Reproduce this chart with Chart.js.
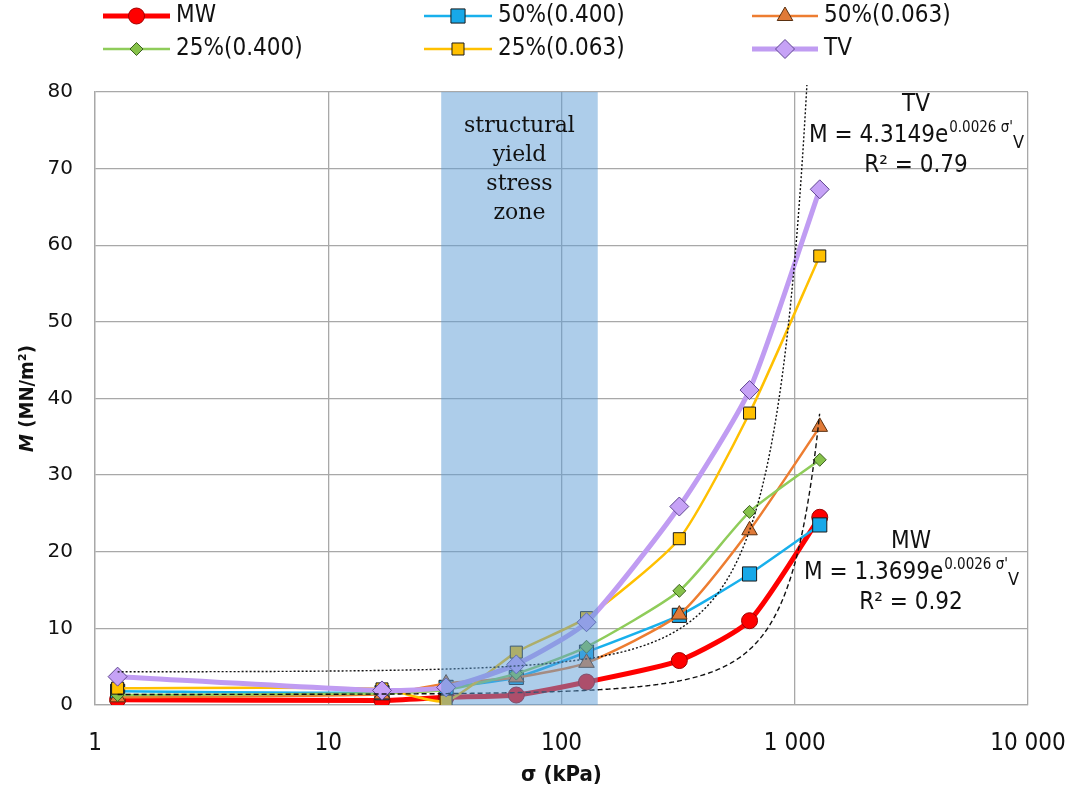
<!DOCTYPE html>
<html>
<head>
<meta charset="utf-8">
<script src="https://cdn.jsdelivr.net/npm/chart.js@4.4.1/dist/chart.umd.min.js"></script>
<style>
  body { margin: 0; background: #fff; }
</style>
</head>
<body>
<canvas id="chart" width="1070" height="794"></canvas>
<script>
// vertical stress steps (kPa)
const stress = [1.25, 17, 32, 64, 128, 320, 640, 1280];

// constrained modulus M (MN/m2) per series
const mwValues    = [0.7, 0.6, 1.0, 1.3, 3.0, 5.8, 11.0, 24.5];
const p50_400     = [1.8, 1.6, 2.3, 3.6, 6.9, 11.7, 17.1, 23.5];
const p50_063     = [1.0, 1.4, 2.8, 3.6, 5.5, 11.8, 22.8, 36.3];
const p25_400     = [1.3, 1.5, 2.0, 4.1, 7.6, 14.9, 25.2, 32.0];
const p25_063     = [2.2, 2.1, 0.5, 6.9, 11.4, 21.7, 38.1, 58.6];
const tvValues    = [3.7, 1.9, 2.3, 5.3, 10.8, 25.9, 41.1, 67.3];

const seriesNames = ['MW', '50%(0.400)', '50%(0.063)', '25%(0.400)', '25%(0.063)', 'TV'];

const xTickValues = [1, 10, 100, 1000, 10000];

// exponential fits shown on the chart: M = a * e^(b * sigma)
const tvFit = [4.3149, 0.0026];
const mwFit = [1.3699, 0.0026];
const tvR2 = '0.79';
const mwR2 = '0.92';

// shaded zone (kPa)
const yieldZone = [30.5, 143];
const yieldLabel = ['structural', 'yield', 'stress', 'zone'];

const COND = "'DejaVu Sans Condensed', 'DejaVu Sans', sans-serif";

function pts(values) {
    return stress.map((s, i) => ({ x: s, y: values[i] }));
}

function makeDataset(label, values, line, width, style, radius, fill, border, order) {
    return {
        label: label,
        data: pts(values),
        borderColor: line,
        borderWidth: width,
        pointStyle: style,
        pointRadius: radius,
        pointBackgroundColor: fill,
        pointBorderColor: border,
        pointBorderWidth: 1,
        tension: 0.2,
        fill: false,
        order: order
    };
}

const datasets = [
    makeDataset(seriesNames[0], mwValues, '#ff0000', 5, 'circle', 8, '#ff0000', '#a00000', 6),
    makeDataset(seriesNames[1], p50_400, '#18b0ec', 2.5, 'rect', 10, '#18a8e8', '#1a1a1a', 5),
    makeDataset(seriesNames[2], p50_063, '#ed7d31', 2.5, 'triangle', 9, '#e07a38', '#5a3010', 4),
    makeDataset(seriesNames[3], p25_400, '#8fcc5a', 2.5, 'rectRot', 6.5, '#86c24a', '#3c6020', 3),
    makeDataset(seriesNames[4], p25_063, '#ffc000', 2.5, 'rect', 8.5, '#ffc000', '#1a1a1a', 2),
    makeDataset(seriesNames[5], tvValues, '#c09cf2', 5, 'rectRot', 9.5, '#c6a2f6', '#5e4590', 1)
];

// legend grid: [line start, line end, text x, row y]
const legendSlots = [
    [103, 170, 176, 16],
    [424, 492, 498, 16],
    [752, 818, 824, 16],
    [103, 170, 176, 49],
    [424, 492, 498, 49],
    [752, 818, 824, 49]
];

function drawTrend(ctx, chart, fit, endSigma, dash) {
    const xs = chart.scales.x, ys = chart.scales.y, area = chart.chartArea;
    const x0 = xs.getPixelForValue(stress[0]);
    const x1 = xs.getPixelForValue(endSigma);
    ctx.save();
    ctx.beginPath();
    ctx.rect(area.left, area.top - 7, area.right - area.left, area.bottom - area.top + 7);
    ctx.clip();
    ctx.strokeStyle = '#111';
    ctx.lineWidth = 1.4;
    ctx.setLineDash(dash);
    ctx.beginPath();
    for (let px = x0; px <= x1; px += 1) {
        const s = xs.getValueForPixel(px);
        const py = ys.getPixelForValue(fit[0] * Math.exp(fit[1] * s));
        if (px === x0) ctx.moveTo(px, py); else ctx.lineTo(px, py);
        if (py < area.top - 10) break;
    }
    ctx.stroke();
    ctx.restore();
}

function drawEquation(ctx, cx, y, fit) {
    const main = '24px ' + COND, sup = '15px ' + COND, sub = '18px ' + COND;
    const t1 = 'M = ' + fit[0] + 'e', t2 = fit[1] + " \u03c3'", t3 = 'V';
    ctx.font = main; const w1 = ctx.measureText(t1).width;
    ctx.font = sup; const w2 = ctx.measureText(t2).width;
    ctx.font = sub; const w3 = ctx.measureText(t3).width;
    let x = cx - (w1 + w2 + w3) / 2;
    ctx.textAlign = 'left';
    ctx.textBaseline = 'middle';
    ctx.font = main; ctx.fillText(t1, x, y); x += w1 + 1;
    ctx.font = sup; ctx.fillText(t2, x, y - 8); x += w2;
    ctx.font = sub; ctx.fillText(t3, x, y + 7);
}

function drawFitBox(ctx, cx, y, name, fit, r2) {
    ctx.fillStyle = '#111';
    ctx.textAlign = 'center';
    ctx.textBaseline = 'middle';
    ctx.font = '24px ' + COND;
    ctx.fillText(name, cx, y);
    drawEquation(ctx, cx, y + 31, fit);
    ctx.textAlign = 'center';
    ctx.font = '24px ' + COND;
    ctx.fillText('R\u00b2 = ' + r2, cx, y + 61);
}

const decorPlugin = {
    id: 'decor',
    afterDatasetsDraw(chart) {
        const ctx = chart.ctx, xs = chart.scales.x, area = chart.chartArea;
        drawTrend(ctx, chart, tvFit, stress[stress.length - 1], [2, 2]);
        drawTrend(ctx, chart, mwFit, stress[stress.length - 1], [5, 3]);

        // shaded zone on top of the data
        const bx0 = xs.getPixelForValue(yieldZone[0]);
        const bx1 = xs.getPixelForValue(yieldZone[1]);
        ctx.save();
        ctx.fillStyle = 'rgba(91,155,213,0.5)';
        ctx.fillRect(bx0, area.top, bx1 - bx0, area.bottom - area.top);
        ctx.fillStyle = '#111';
        ctx.font = "22px 'DejaVu Serif', 'Liberation Serif', serif";
        ctx.textAlign = 'center';
        ctx.textBaseline = 'middle';
        const cx = (bx0 + bx1) / 2;
        yieldLabel.forEach((t, i) => ctx.fillText(t, cx, area.top + 34 + i * 29));

        drawFitBox(ctx, 916, 105, 'TV', tvFit, tvR2);
        drawFitBox(ctx, 911, 542, 'MW', mwFit, mwR2);
        ctx.restore();
    },
    afterDraw(chart) {
        const ctx = chart.ctx, area = chart.chartArea;
        ctx.save();
        // legend
        chart.data.datasets.forEach((ds, i) => {
            const [l0, l1, tx, y] = legendSlots[i];
            ctx.strokeStyle = ds.borderColor;
            ctx.lineWidth = ds.borderWidth;
            ctx.setLineDash([]);
            ctx.beginPath();
            ctx.moveTo(l0, y);
            ctx.lineTo(l1, y);
            ctx.stroke();
            ctx.fillStyle = ds.pointBackgroundColor;
            ctx.strokeStyle = ds.pointBorderColor;
            ctx.lineWidth = 1;
            Chart.helpers.drawPoint(ctx, {
                pointStyle: ds.pointStyle, radius: ds.pointRadius, rotation: 0, borderWidth: 1
            }, (l0 + l1) / 2, y);
            ctx.fillStyle = '#111';
            ctx.font = '24px ' + COND;
            ctx.textAlign = 'left';
            ctx.textBaseline = 'middle';
            ctx.fillText(ds.label, tx, y);
        });

        // y axis title: italic M + rest
        ctx.translate(28, (area.top + area.bottom) / 2);
        ctx.rotate(-Math.PI / 2);
        const fItal = "italic bold 20px " + COND, fBold = "bold 20px " + COND;
        const a = 'M', b = ' (MN/m\u00b2)';
        ctx.font = fItal; const wa = ctx.measureText(a).width;
        ctx.font = fBold; const wb = ctx.measureText(b).width;
        ctx.textBaseline = 'middle';
        ctx.textAlign = 'left';
        ctx.font = fItal; ctx.fillText(a, -(wa + wb) / 2, 0);
        ctx.font = fBold; ctx.fillText(b, -(wa + wb) / 2 + wa, 0);
        ctx.restore();

        ctx.save();
        ctx.fillStyle = '#111';
        ctx.font = 'bold 22px ' + COND;
        ctx.textAlign = 'center';
        ctx.textBaseline = 'middle';
        ctx.fillText('\u03c3 (kPa)', (area.left + area.right) / 2, 775);
        ctx.restore();
    }
};

const gridColor = '#a8a8a8';

new Chart(document.getElementById('chart'), {
    type: 'line',
    data: { datasets: datasets },
    options: {
        responsive: false,
        animation: false,
        layout: { padding: { top: 92, right: 42, left: 0, bottom: 0 } },
        plugins: { legend: { display: false }, tooltip: { enabled: false } },
        scales: {
            x: {
                type: 'logarithmic',
                min: 1,
                max: 10000,
                afterBuildTicks: (scale) => { scale.ticks = xTickValues.map(v => ({ value: v })); },
                afterFit: (scale) => {
                    scale.height = 89;
                    scale.paddingLeft = 0;
                    scale.paddingRight = 0;
                },
                ticks: {
                    autoSkip: false,
                    maxRotation: 0,
                    padding: 24,
                    color: '#111',
                    font: { family: COND, size: 24 },
                    callback: (v) => String(v).replace(/\B(?=(\d{3})+(?!\d))/g, ' ')
                },
                grid: { color: gridColor, lineWidth: 1.3, drawTicks: false },
                border: { color: gridColor, width: 1.3 }
            },
            y: {
                min: 0,
                max: 80,
                afterFit: (scale) => { scale.width = 95; },
                ticks: {
                    stepSize: 10,
                    padding: 22,
                    color: '#111',
                    font: { family: "'DejaVu Sans', sans-serif", size: 20 }
                },
                grid: { color: gridColor, lineWidth: 1.3, drawTicks: false },
                border: { color: gridColor, width: 1.3 }
            }
        }
    },
    plugins: [decorPlugin]
});
</script>
</body>
</html>
